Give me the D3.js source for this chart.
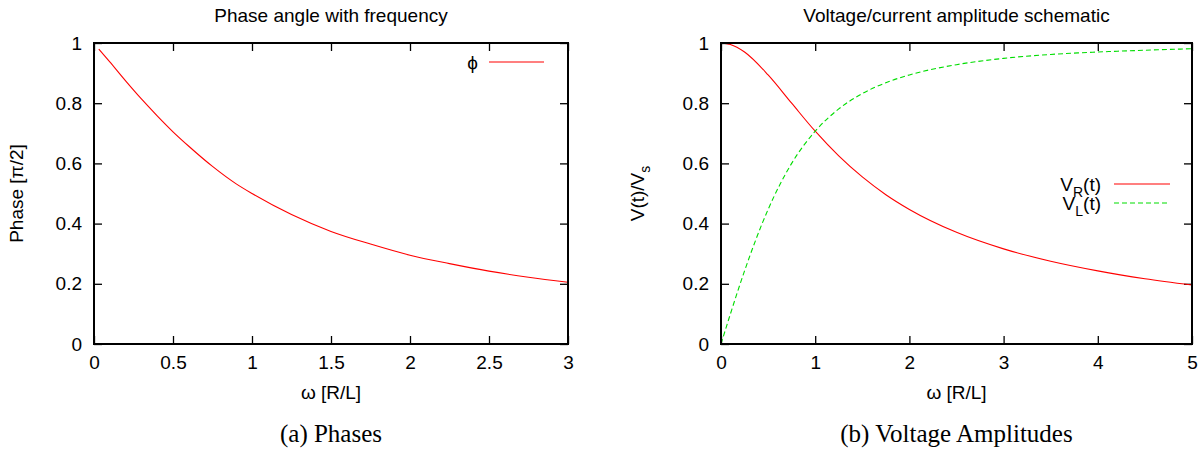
<!DOCTYPE html>
<html>
<head>
<meta charset="utf-8">
<script src="https://cdn.jsdelivr.net/npm/d3@7"></script>
<style>
  body { margin: 0; background: #fff; }
  svg text { font-family: "Liberation Sans", Arial, sans-serif; fill: #000; }
  .caption { font-family: "Liberation Serif", "Times New Roman", serif; }
</style>
</head>
<body>
<svg id="chart" width="1204" height="450"></svg>
<script>
// Phase plot
var phaseOmega = [0.03, 0.1, 0.2, 0.3, 0.4, 0.5, 0.6, 0.75, 0.9, 1.0, 1.25, 1.5, 1.75, 2.0, 2.25, 2.5, 2.75, 3.0];
var phaseValue = [0.98, 0.937, 0.874, 0.814, 0.758, 0.705, 0.657, 0.59, 0.532, 0.50, 0.43, 0.374, 0.332, 0.295, 0.267, 0.242, 0.222, 0.205];

// Amplitude plot
var ampOmega = [0, 0.1, 0.25, 0.5, 0.75, 1.0, 1.25, 1.5, 1.75, 2.0, 2.5, 3.0, 3.5, 4.0, 4.5, 5.0];
var vR = [1.0, 0.995, 0.97, 0.894, 0.80, 0.707, 0.625, 0.555, 0.496, 0.447, 0.371, 0.316, 0.275, 0.243, 0.217, 0.196];
var vL = [0.0, 0.1, 0.243, 0.447, 0.60, 0.707, 0.781, 0.832, 0.868, 0.894, 0.928, 0.949, 0.962, 0.970, 0.976, 0.981];

var phaseXTicks = [0, 0.5, 1, 1.5, 2, 2.5, 3];
var ampXTicks = [0, 1, 2, 3, 4, 5];
var yTicks = [0, 0.2, 0.4, 0.6, 0.8, 1];

var svg = d3.select("#chart");
var plotTop = 43, plotBottom = 344, tick = 8;

function panel(opts) {
  var x = d3.scaleLinear().domain(opts.xDomain).range([opts.left, opts.right]);
  var y = d3.scaleLinear().domain([0, 1]).range([plotBottom, plotTop]);
  var g = svg.append("g");

  // ticks on all four sides, pointing inward
  g.append("g").attr("transform", "translate(0," + plotBottom + ")")
    .call(d3.axisBottom(x).tickValues(opts.xTicks).tickSizeInner(-tick).tickSizeOuter(0).tickPadding(12)
      .tickFormat(d3.format("")))
    .call(a => a.select(".domain").remove());
  g.append("g").attr("transform", "translate(0," + plotTop + ")")
    .call(d3.axisTop(x).tickValues(opts.xTicks).tickSizeInner(-tick).tickSizeOuter(0).tickFormat(""))
    .call(a => a.select(".domain").remove());
  g.append("g").attr("transform", "translate(" + opts.left + ",0)")
    .call(d3.axisLeft(y).tickValues(yTicks).tickSizeInner(-tick).tickSizeOuter(0).tickPadding(12)
      .tickFormat(d3.format("")))
    .call(a => a.select(".domain").remove());
  g.append("g").attr("transform", "translate(" + opts.right + ",0)")
    .call(d3.axisRight(y).tickValues(yTicks).tickSizeInner(-tick).tickSizeOuter(0).tickFormat(""))
    .call(a => a.select(".domain").remove());

  g.selectAll(".tick line").attr("stroke", "#000").attr("stroke-width", 1.3);
  g.selectAll(".tick text").style("font-size", "19px").style("font-family", "Liberation Sans, Arial, sans-serif");

  // curves
  opts.series.forEach(function (s) {
    var pts = d3.zip(s.xs, s.ys);
    g.append("path")
      .datum(pts)
      .attr("fill", "none")
      .attr("stroke", s.color)
      .attr("stroke-width", 1.1)
      .attr("stroke-dasharray", s.dash || null)
      .attr("d", d3.line().curve(d3.curveMonotoneX).x(d => x(d[0])).y(d => y(d[1])));
  });

  // frame
  g.append("rect")
    .attr("x", opts.left).attr("y", plotTop)
    .attr("width", opts.right - opts.left).attr("height", plotBottom - plotTop)
    .attr("fill", "none").attr("stroke", "#000").attr("stroke-width", 2);

  var cx = (opts.left + opts.right) / 2;
  g.append("text").attr("x", cx).attr("y", 22).attr("text-anchor", "middle")
    .style("font-size", "19px").text(opts.title);
  g.append("text").attr("x", cx).attr("y", 399).attr("text-anchor", "middle")
    .style("font-size", "19px").text("ω [R/L]");
  g.append("text").attr("class", "caption").attr("x", cx).attr("y", 442).attr("text-anchor", "middle")
    .style("font-size", "25px").text(opts.caption);

  var yl = g.append("text")
    .attr("transform", "translate(" + opts.yLabelX + "," + ((plotTop + plotBottom) / 2) + ") rotate(-90)")
    .attr("text-anchor", "middle").style("font-size", "19px");
  opts.yLabel(yl);

  // legend
  opts.series.forEach(function (s, i) {
    var ly = opts.legendY + i * 19;
    var t = g.append("text").attr("x", opts.legendTextX).attr("y", ly).attr("dy", "0.35em")
      .attr("text-anchor", "end").style("font-size", "19px");
    s.label(t);
    g.append("line")
      .attr("x1", opts.legendLine[0]).attr("x2", opts.legendLine[1])
      .attr("y1", ly).attr("y2", ly)
      .attr("stroke", s.color).attr("stroke-width", 1.1)
      .attr("stroke-dasharray", s.dash || null);
  });
}

panel({
  left: 94, right: 568,
  xDomain: [0, 3], xTicks: phaseXTicks,
  title: "Phase angle with frequency",
  caption: "(a) Phases",
  yLabelX: 23,
  yLabel: function (t) { t.text("Phase [π/2]"); },
  legendY: 62, legendTextX: 478, legendLine: [489, 544],
  series: [
    { xs: phaseOmega, ys: phaseValue, color: "#ff0000", label: function (t) { t.text("ϕ"); } }
  ]
});

panel({
  left: 721, right: 1192,
  xDomain: [0, 5], xTicks: ampXTicks,
  title: "Voltage/current amplitude schematic",
  caption: "(b) Voltage Amplitudes",
  yLabelX: 644,
  yLabel: function (t) {
    t.append("tspan").text("V(t)/V");
    t.append("tspan").attr("dy", 6).style("font-size", "14px").text("s");
  },
  legendY: 184, legendTextX: 1101, legendLine: [1114, 1170],
  series: [
    { xs: ampOmega, ys: vR, color: "#ff0000",
      label: function (t) {
        t.append("tspan").text("V");
        t.append("tspan").attr("dy", 6).style("font-size", "14px").text("R");
        t.append("tspan").attr("dy", -6).text("(t)");
      } },
    { xs: ampOmega, ys: vL, color: "#00dd00", dash: "5,3",
      label: function (t) {
        t.append("tspan").text("V");
        t.append("tspan").attr("dy", 6).style("font-size", "14px").text("L");
        t.append("tspan").attr("dy", -6).text("(t)");
      } }
  ]
});
</script>
</body>
</html>
